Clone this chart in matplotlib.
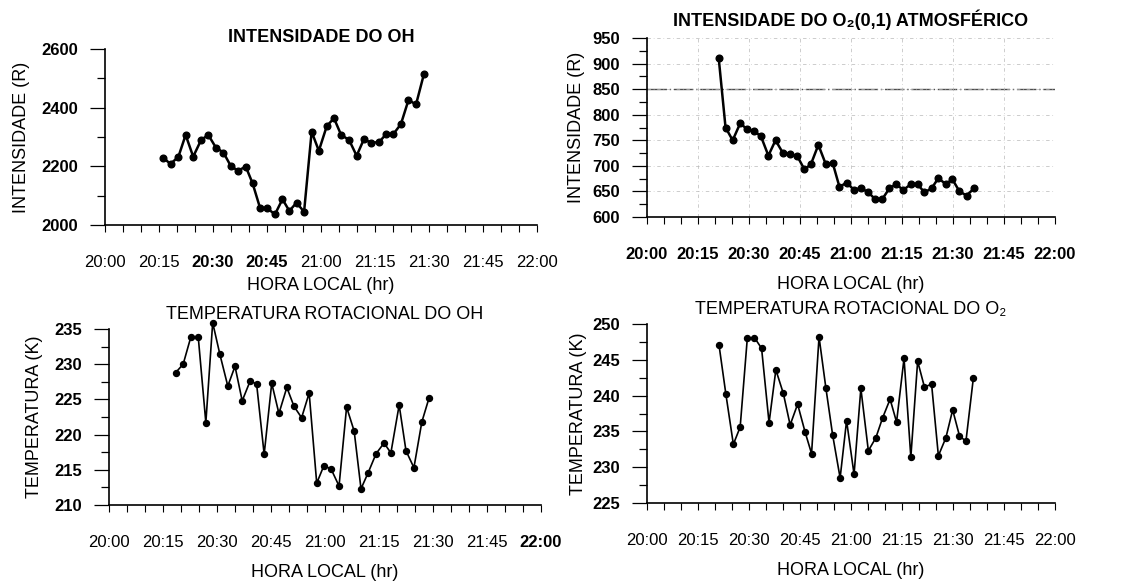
import matplotlib
matplotlib.use("Agg")
import matplotlib.pyplot as plt
from matplotlib.ticker import MultipleLocator

plt.rcParams['font.family'] = ['Liberation Sans', 'DejaVu Sans']

# minutes after 20:00
hour_labels = ["20:00", "20:15", "20:30", "20:45", "21:00", "21:15", "21:30", "21:45", "22:00"]

oh_int_t = [16.2, 18.2, 20.4, 22.4, 24.5, 26.7, 28.7, 30.8, 32.9, 34.9, 36.9, 39.1,
            41.0, 43.1, 45.1, 47.2, 49.3, 51.2, 53.2, 55.3, 57.4, 59.4, 61.6, 63.6,
            65.6, 67.8, 69.9, 71.9, 73.9, 76.1, 78.1, 80.1, 82.2, 84.3, 86.4, 88.6]
oh_int = [2229, 2208, 2233, 2307, 2233, 2290, 2307, 2264, 2247, 2202, 2185, 2199,
          2142, 2057, 2057, 2036, 2088, 2048, 2076, 2045, 2318, 2253, 2337, 2364,
          2307, 2290, 2236, 2292, 2281, 2282, 2310, 2310, 2344, 2426, 2411, 2515]

o2_int_t = [21.1, 23.1, 25.2, 27.4, 29.4, 31.5, 33.5, 35.7, 37.8, 39.9, 42.1, 44.2,
            46.3, 48.2, 50.4, 52.6, 54.6, 56.6, 58.7, 60.9, 62.9, 65.1, 67.1, 69.2,
            71.3, 73.2, 75.4, 77.6, 79.6, 81.6, 83.7, 85.7, 87.9, 89.8, 91.9, 94.0, 96.2]
o2_int = [910, 775, 750, 783, 772, 768, 758, 720, 750, 726, 723, 719,
          693, 703, 741, 703, 706, 659, 667, 653, 657, 648, 635, 635,
          656, 664, 653, 664, 664, 648, 656, 676, 664, 674, 650, 642, 656]

oh_temp_t = [18.5, 20.6, 22.7, 24.8, 26.9, 28.8, 30.8, 33.0, 35.0, 37.0, 39.2, 41.0,
             43.1, 45.2, 47.2, 49.4, 51.4, 53.5, 55.6, 57.7, 59.7, 61.7, 63.9, 66.0,
             68.1, 70.0, 72.0, 74.2, 76.4, 78.3, 80.6, 82.5, 84.7, 86.9, 88.9]
oh_temp = [228.8, 230.0, 233.8, 233.8, 221.7, 235.9, 231.4, 226.9, 229.7, 224.8, 227.6, 227.2,
           217.2, 227.3, 223.0, 226.7, 224.0, 222.4, 225.9, 213.1, 215.6, 215.1, 212.7, 223.9,
           220.5, 212.3, 214.6, 217.3, 218.8, 217.4, 224.2, 217.7, 215.3, 221.8, 225.2]

o2_temp_t = [21.2, 23.2, 25.4, 27.4, 29.5, 31.6, 33.7, 35.9, 37.9, 40.1, 42.1, 44.3,
             46.5, 48.4, 50.6, 52.6, 54.6, 56.8, 58.7, 60.9, 62.9, 65.1, 67.3, 69.3,
             71.5, 73.4, 75.6, 77.6, 79.6, 81.6, 83.7, 85.7, 87.9, 89.9, 91.9, 93.8, 96.0]
o2_temp = [247.0, 240.2, 233.2, 235.6, 248.0, 248.1, 246.6, 236.2, 243.6, 240.3, 235.9, 238.8,
           234.9, 231.9, 248.2, 241.1, 234.5, 228.5, 236.5, 229.0, 241.0, 232.3, 234.1, 236.9,
           239.5, 236.3, 245.2, 231.4, 244.8, 241.2, 241.6, 231.6, 234.1, 238.0, 234.4, 233.6, 242.5]

W, H = 1131.0, 581.0
fig = plt.figure(figsize=(W / 100, H / 100), dpi=100)


def make_axes(l, r, t, b):
    return fig.add_axes([l / W, 1 - b / H, (r - l) / W, (b - t) / H])


def style(ax, ylo, yhi, ymaj, ymin, bold_x=()):
    ax.set_xlim(0, 120)
    ax.set_ylim(ylo, yhi)
    for s in ['top', 'right']:
        ax.spines[s].set_visible(False)
    ax.spines['left'].set_linewidth(1.2)
    ax.spines['bottom'].set_linewidth(1.2)
    ax.xaxis.set_minor_locator(MultipleLocator(5))
    ax.yaxis.set_major_locator(MultipleLocator(ymaj))
    ax.yaxis.set_minor_locator(MultipleLocator(ymin))
    ax.set_xticks(range(0, 121, 15))
    ax.set_xticklabels(hour_labels)
    ax.tick_params(axis='x', which='major', direction='out', length=5, width=0.8, pad=16.5, labelsize=12)
    ax.tick_params(axis='x', which='minor', direction='out', length=5, width=0.8)
    ax.tick_params(axis='y', which='major', direction='out', length=11, width=0.9, pad=8.5, labelsize=12)
    ax.tick_params(axis='y', which='minor', direction='out', length=6, width=0.9)
    for lab in ax.get_yticklabels():
        lab.set_fontweight('bold')
    for i in bold_x:
        ax.get_xticklabels()[i].set_fontweight('bold')


# INTENSIDADE DO OH
ax1 = make_axes(105, 537, 49, 225)
style(ax1, 2000, 2600, 200, 100, bold_x=(2, 3))
ax1.plot(oh_int_t, oh_int, '-o', color='black', lw=1.8, ms=4.8)
ax1.set_title('INTENSIDADE DO OH', fontsize=13, fontweight='bold', pad=5)
ax1.set_ylabel('INTENSIDADE (R)', fontsize=13, labelpad=8)
ax1.set_xlabel('HORA LOCAL (hr)', fontsize=13, labelpad=5)

# INTENSIDADE DO O2(0,1)
ax2 = make_axes(647, 1055, 38, 217)
style(ax2, 600, 950, 50, 25, bold_x=range(9))
ax2.grid(True, which='major', color='0.72', lw=0.5, linestyle=(0, (5, 4, 1, 4)))
ax2.axhline(850, color='0.3', lw=1.0, linestyle=(0, (14, 2, 1, 2)), zorder=1)
ax2.plot(o2_int_t, o2_int, '-o', color='black', lw=1.8, ms=4.8, zorder=3)
ax2.set_title('INTENSIDADE DO O₂(0,1) ATMOSFÉRICO', fontsize=13, fontweight='bold', pad=9)
ax2.set_ylabel('INTENSIDADE (R)', fontsize=13, labelpad=5)
ax2.set_xlabel('HORA LOCAL (hr)', fontsize=13, labelpad=10)

# TEMPERATURA ROTACIONAL DO OH
ax3 = make_axes(109, 541, 329, 505)
style(ax3, 210, 235, 5, 2.5, bold_x=(8,))
ax3.plot(oh_temp_t, oh_temp, '-o', color='black', lw=1.2, ms=4.3, clip_on=False)
ax3.set_title('TEMPERATURA ROTACIONAL DO OH', fontsize=13, pad=7)
ax3.set_ylabel('TEMPERATURA (K)', fontsize=13, labelpad=8)
ax3.set_xlabel('HORA LOCAL (hr)', fontsize=13, labelpad=10)

# TEMPERATURA ROTACIONAL DO O2
ax4 = make_axes(647, 1055, 324, 503)
style(ax4, 225, 250, 5, 2.5)
ax4.plot(o2_temp_t, o2_temp, '-o', color='black', lw=1.2, ms=4.3, clip_on=False)
ax4.set_title('TEMPERATURA ROTACIONAL DO O₂', fontsize=13, pad=7)
ax4.set_ylabel('TEMPERATURA (K)', fontsize=13, labelpad=4)
ax4.set_xlabel('HORA LOCAL (hr)', fontsize=13, labelpad=10)

fig.savefig('out.png', dpi=100, facecolor='white')
